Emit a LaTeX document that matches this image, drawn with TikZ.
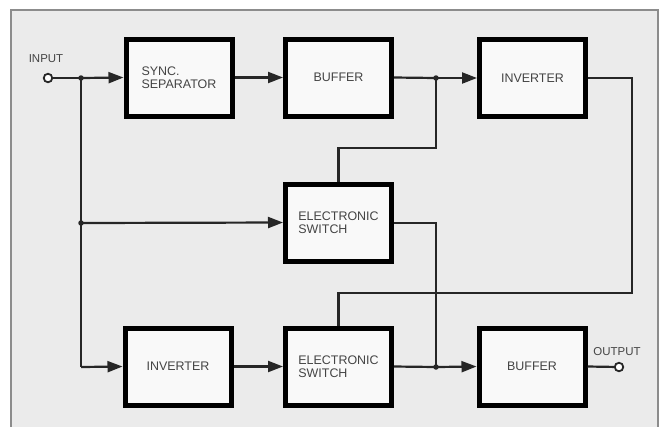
\documentclass[tikz,border=0pt]{standalone}
\usepackage{fontspec}
\setmainfont{Liberation Sans}
\usetikzlibrary{arrows.meta}
\definecolor{bgc}{HTML}{EBEBEB}
\definecolor{framec}{HTML}{8C8C8C}
\definecolor{txtc}{HTML}{444444}
\definecolor{boxfill}{HTML}{F9F9F9}
\begin{document}
\begin{tikzpicture}[x=1bp,y=-1bp,
  blk/.style={draw=black, line width=5bp, fill=boxfill, minimum width=106bp, minimum height=77bp,
    inner sep=0pt, align=left, text=txtc, font=\fontsize{12.5}{13.5}\selectfont},
  wire/.style={line width=2.2bp, draw=black!85},
  arr/.style={wire, -{Triangle[length=15bp,width=11bp]}},
  dotc/.style={circle, fill=black!85, inner sep=0pt, minimum size=5.5bp},
  term/.style={circle, draw=black!85, line width=1.8bp, fill=white, inner sep=0pt, minimum size=8.5bp},
  lbl/.style={text=txtc, font=\fontsize{11.5}{12}\selectfont, inner sep=0pt}]
\useasboundingbox (0,0) rectangle (663,426);
\fill[white] (0,0) rectangle (663,426);
\draw[framec, line width=1.5bp, fill=bgc] (11,10) rectangle (658,440);

% blocks
\node[blk] (sync) at (179,77.5) {SYNC.\\SEPARATOR};
\node[blk] (buf1) at (338.5,77.5) {BUFFER};
\node[blk] (inv1) at (532.5,78) {INVERTER};
\node[blk] (sw1)  at (338.5,222.5) {ELECTRONIC\\SWITCH};
\node[blk] (inv2) at (178,366.5) {INVERTER};
\node[blk] (sw2)  at (338.5,366.5) {ELECTRONIC\\SWITCH};
\node[blk] (buf2) at (532,366.5) {BUFFER};

% terminals and labels
\node[term] (in)  at (48,78) {};
\node[lbl] (inl) at (46,59) {INPUT};
\node[term] (out) at (619,367) {};
\node[lbl] (outl) at (617,352) {OUTPUT};

% junctions
\node[dotc] (j1) at (81,78) {};
\node[dotc] (j2) at (81,223) {};
\node[dotc] (j3) at (436,78) {};
\node[dotc] (j4) at (436,367) {};
\coordinate (c1) at (81,367);
\coordinate (c2) at (436,148);
\coordinate (c3) at (338.5,148);
\coordinate (c4) at (632,78);
\coordinate (c5) at (632,293);
\coordinate (c6) at (338.5,293);
\coordinate (c7) at (436,223);

% top row
\draw[wire] (in) -- (j1.center);
\draw[arr] (j1.center) -- (sync.west);
\draw[arr] (sync.east) -- (buf1.west);
\draw[wire] (buf1.east) -- (j3.center);
\draw[arr] (j3.center) -- (inv1.west);

% left vertical feed
\draw[wire] (j1.center) -- (c1);
\draw[arr] (c1) -- (inv2.west);
\draw[arr] (j2.center) -- (sw1.west);

% feedback to middle switch
\draw[wire] (j3.center) -- (c2) -- (c3) -- (sw1.north);

% middle switch output
\draw[wire] (sw1.east |- c7) -- (c7) -- (j4.center);

% inverter output loop
\draw[wire] (inv1.east) -- (c4) -- (c5) -- (c6) -- (sw2.north);

% bottom row
\draw[arr] (inv2.east) -- (sw2.west);
\draw[wire] (sw2.east) -- (j4.center);
\draw[arr] (j4.center) -- (buf2.west);
\draw[wire] (buf2.east) -- (out);
\end{tikzpicture}
\end{document}
